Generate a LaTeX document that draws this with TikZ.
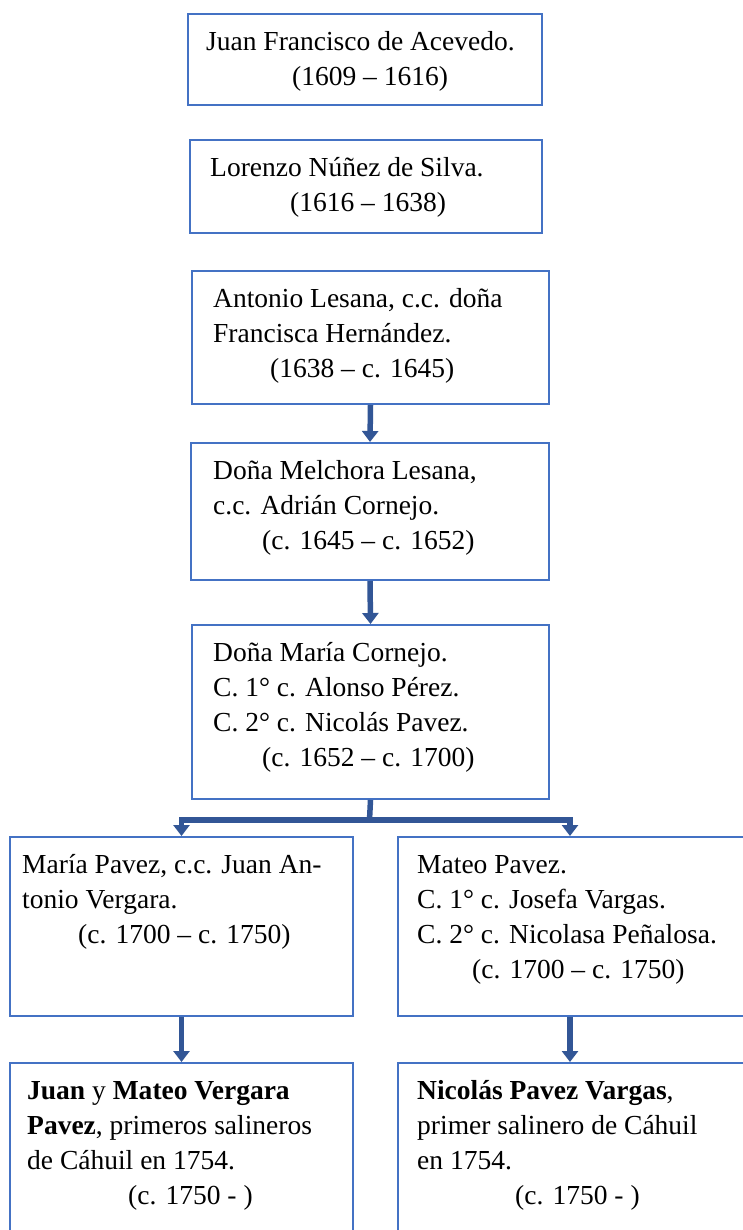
\documentclass[tikz,border=0pt]{standalone}
\usepackage{fontspec}
\setmainfont{Liberation Serif}
\usetikzlibrary{arrows.meta}
\definecolor{boxblue}{RGB}{68,114,196}
\definecolor{arrblue}{RGB}{50,86,150}
\newcommand\txtsize{\fontsize{27.5}{35}\selectfont}
\begin{document}
\begin{tikzpicture}[x=1pt,y=-1pt,
  box/.style={draw=boxblue, line width=2pt, inner sep=0pt, anchor=north west},
  txt/.style={anchor=north west, inner sep=0pt, align=left, font=\txtsize},
  arr/.style={draw=arrblue, line width=5.5pt, line join=miter,
    -{Triangle[width=16pt,length=11pt]}},
  ]
\clip (0,0) rectangle (743,1230);
\fill[white] (0,0) rectangle (743,1230);
% boxes
\node[box, minimum width=354pt, minimum height=91pt]  (b1) at (187,13) {};
\node[box, minimum width=352pt, minimum height=93pt]  (b2) at (189,139) {};
\node[box, minimum width=357pt, minimum height=133pt] (b3) at (191,270) {};
\node[box, minimum width=358pt, minimum height=137pt] (b4) at (190,442) {};
\node[box, minimum width=357pt, minimum height=174pt] (b5) at (191,624) {};
\node[box, minimum width=343pt, minimum height=179pt] (c1) at (9,836) {};
\node[box, minimum width=373pt, minimum height=179pt] (c2) at (397,836) {};
\node[box, minimum width=343pt, minimum height=200pt] (d1) at (9,1062) {};
\node[box, minimum width=373pt, minimum height=200pt] (d2) at (397,1062) {};
% texts
\node[txt] (t1) at (206,25.5) {\strut Juan Francisco de Acevedo.\\\hspace*{86pt}(1609 – 1616)};
\node[txt] (t2) at (210,151.5) {\strut Lorenzo Núñez de Silva.\\\hspace*{80pt}(1616 – 1638)};
\node[txt] (t3) at (213,282.5) {\strut Antonio Lesana, c.c. doña\\Francisca Hernández.\\\hspace*{57pt}(1638 – c. 1645)};
\node[txt] (t4) at (213,454.5) {\strut Doña Melchora Lesana,\\c.c. Adrián Cornejo.\\\hspace*{49pt}(c. 1645 – c. 1652)};
\node[txt] (t5) at (213,636.5) {\strut Doña María Cornejo.\\C. 1° c. Alonso Pérez.\\C. 2° c. Nicolás Pavez.\\\hspace*{49pt}(c. 1652 – c. 1700)};
\node[txt] (t6) at (22,848.5) {\strut María Pavez, c.c. Juan An-\\tonio Vergara.\\\hspace*{56pt}(c. 1700 – c. 1750)};
\node[txt] (t7) at (417,848.5) {\strut Mateo Pavez.\\C. 1° c. Josefa Vargas.\\C. 2° c. Nicolasa Peñalosa.\\\hspace*{55pt}(c. 1700 – c. 1750)};
\node[txt] (t8) at (27,1074.5) {\strut \textbf{Juan} y \textbf{Mateo Vergara}\\\textbf{Pavez}, primeros salineros\\de Cáhuil en 1754.\\\hspace*{101pt}(c. 1750 - )};
\node[txt] (t9) at (417,1074.5) {\strut \textbf{Nicolás Pavez Vargas},\\primer salinero de Cáhuil\\en 1754.\\\hspace*{98pt}(c. 1750 - )};
% connectors
\coordinate (bar) at (369.5,820);
\draw[arr] (b3.south) -- (b4.north);
\draw[arr] (b4.south) -- (b5.north);
\draw[draw=arrblue, line width=5.5pt] (b5.south) -- (bar);
\draw[arr] (bar) -| (c1.north);
\draw[arr] (bar) -| ([xshift=173pt]c2.north west);
\draw[arr] (c1.south) -- (d1.north);
\draw[arr] ([xshift=173pt]c2.south west) -- ([xshift=173pt]d2.north west);
\end{tikzpicture}
\end{document}
